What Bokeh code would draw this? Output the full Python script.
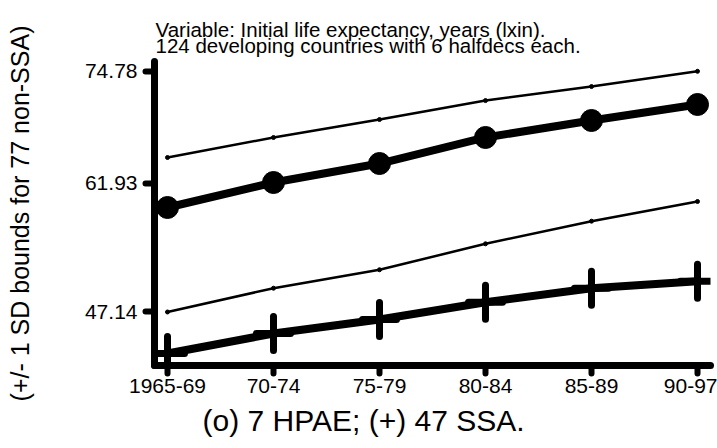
from bokeh.plotting import figure
from bokeh.models import FixedTicker, Range1d, Title
from bokeh.embed import file_html
from bokeh.resources import INLINE

# ---- data ----
periods = ["1965-69", "70-74", "75-79", "80-84", "85-89", "90-97"]
hpae = [59.14, 62.01, 64.19, 67.18, 69.13, 70.97]
ssa = [42.37, 44.67, 46.28, 48.26, 49.87, 50.68]
nonssa_upper = [64.88, 67.18, 69.24, 71.42, 73.03, 74.78]
nonssa_lower = [47.14, 49.87, 51.99, 54.97, 57.57, 59.83]
y_ticks = [47.14, 61.93, 74.78]

title1 = "Variable: Initial life expectancy, years (lxin)."
title2 = "124 developing countries with 6 halfdecs each."
x_title = "(o) 7 HPAE; (+) 47 SSA."
y_title = "(+/- 1 SD bounds for 77 non-SSA)"

FONT = "Liberation Sans"
xs = list(range(len(periods)))

p = figure(width=717, height=448, output_backend="svg", toolbar_location=None,
           x_range=Range1d(-0.1226, 5.1226), y_range=Range1d(40.995, 75.906),
           min_border_left=154, min_border_right=7, min_border_top=61, min_border_bottom=83)
p.outline_line_color = None
p.xgrid.visible = False
p.ygrid.visible = False
p.background_fill_color = "white"
p.border_fill_color = "white"

for ax in (p.xaxis[0], p.yaxis[0]):
    ax.axis_line_width = 7
    ax.axis_line_color = "black"
    ax.axis_line_cap = "round"
    ax.major_tick_line_width = 6
    ax.major_tick_line_cap = "round"
    ax.major_tick_in = 0
    ax.minor_tick_line_color = None
    ax.major_label_text_font = FONT
    ax.major_label_text_font_size = "21px"
    ax.major_label_text_color = "black"

p.xaxis.ticker = FixedTicker(ticks=xs)
p.xaxis.major_label_overrides = {i: s for i, s in enumerate(periods)}
p.xaxis.major_tick_out = 8
p.xaxis.major_label_standoff = 5
p.yaxis.ticker = FixedTicker(ticks=y_ticks)
p.yaxis.major_tick_out = 9
p.yaxis.major_label_standoff = 8

# y-axis title
p.yaxis.axis_label = y_title
p.yaxis.axis_label_text_font = FONT
p.yaxis.axis_label_text_font_size = "25px"
p.yaxis.axis_label_text_font_style = "normal"
p.yaxis.axis_label_text_color = "black"
p.yaxis.axis_label_standoff = 48

# thin bound lines
for series in (nonssa_upper, nonssa_lower):
    p.line(xs, series, line_width=2.5, color="black")
    p.scatter(xs, series, size=4, color="black")

# thick series
p.line(xs, hpae, line_width=8, color="black", line_join="round", line_cap="round")
p.scatter(xs, hpae, marker="circle", size=22, color="black")
p.line(xs, ssa, line_width=8, color="black", line_join="round", line_cap="round")
p.scatter(xs, ssa, marker="cross", size=34, line_width=7, color="black", line_cap="round")

# top caption (two lines) and bottom caption
p.title.text = title1 + "\n" + title2
p.title.text_font = FONT
p.title.text_font_size = "20.5px"
p.title.text_font_style = "normal"
p.title.text_color = "black"
p.title.text_line_height = 0.7
p.title.align = "left"
p.title.offset = 1
p.title.standoff = 8

p.add_layout(Title(text=x_title, text_font=FONT, text_font_size="30px",
                   text_font_style="normal", text_color="black", text_line_height=0.9,
                   align="left", offset=48, standoff=12), "below")

open("out.html", "w").write(file_html(p, INLINE))
